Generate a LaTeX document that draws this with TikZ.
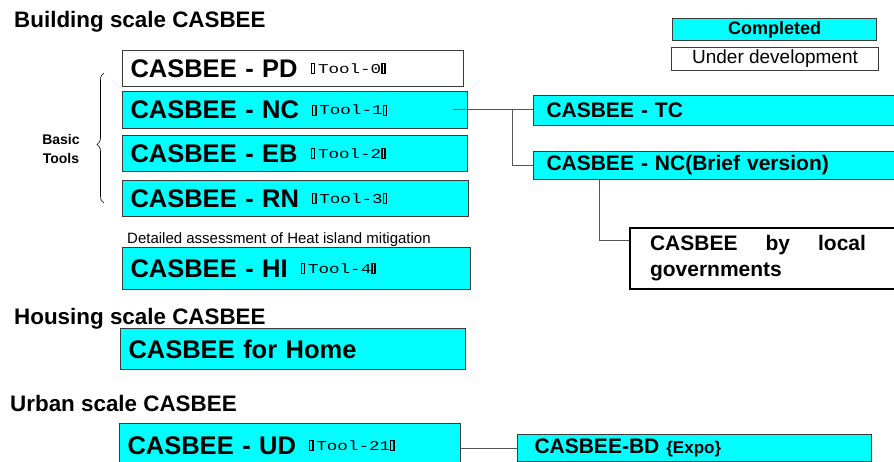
\documentclass[tikz,border=0pt]{standalone}
\usepackage{fontspec}
\setmainfont{Liberation Sans}
\newfontfamily\toolfont{Liberation Mono}
\usepackage{graphicx}
\usepackage{xcolor}
\usetikzlibrary{positioning, decorations.pathreplacing}
\definecolor{donecyan}{RGB}{0, 255, 255}
\definecolor{framegray}{RGB}{60, 60, 60}
\definecolor{linkgray}{RGB}{85, 85, 85}

% empty glyph boxes round the tool numbers
\newcommand{\tofu}{{\setlength{\fboxsep}{0pt}\setlength{\fboxrule}{1pt}\fbox{\rule{0pt}{9pt}\hspace{1.4pt}}}}
\newcommand{\toolno}[1]{\hspace{13pt}\raisebox{4pt}{\scalebox{1.3}[1]{\mdseries\toolfont\fontsize{13.5}{13.5}\selectfont\tofu\,Tool-#1\tofu}}}

\begin{document}
\begin{tikzpicture}[x=1pt, y=-1pt,
    tool/.style={draw=framegray, line width=1pt, fill=#1, anchor=north west,
                 inner xsep=8pt, inner ysep=0pt, align=left,
                 font=\bfseries\fontsize{25.5}{28}\selectfont},
    tool/.default=donecyan,
    sub/.style={tool, inner xsep=13pt, font=\bfseries\fontsize{21}{25}\selectfont},
    scale title/.style={anchor=base west, inner sep=0pt, font=\bfseries\fontsize{22.4}{26}\selectfont},
    legend/.style={draw=framegray, line width=1pt, fill=#1, anchor=north west,
                   inner sep=0pt},
    link/.style={draw=linkgray, line width=1pt}
]
    \path[use as bounding box, fill=white] (0,0) rectangle (894,462);
    \clip (0,0) rectangle (894,462);

    % legend
    \node[legend=donecyan, minimum width=204pt, minimum height=22pt,
          font=\bfseries\fontsize{18}{20}\selectfont] (completed) at (672,18) {Completed};
    \node[legend=white, minimum width=207pt, minimum height=23pt,
          font=\fontsize{19}{21}\selectfont] (underdev) at (671,47) {Under development};

    % building scale
    \node[scale title] (building) at (14,28) {Building scale CASBEE};
    \node[tool=white, text width=325pt, minimum height=36pt] (pd) at (122,50) {CASBEE - PD\toolno{0}};
    \node[tool, text width=329pt, minimum height=37pt] (nc) at (122,91) {CASBEE - NC\toolno{1}};
    \node[tool, text width=329pt, minimum height=36pt] (eb) at (122,135) {CASBEE - EB\toolno{2}};
    \node[tool, text width=330pt, minimum height=36pt] (rn) at (122,180) {CASBEE - RN\toolno{3}};
    \node[anchor=base west, inner sep=0pt, font=\fontsize{15}{17}\selectfont] (hinote) at (127,244)
        {Detailed assessment of Heat island mitigation};
    \node[tool, text width=332pt, minimum height=42pt] (hi) at (122,247) {CASBEE - HI\toolno{4}};

    \draw[decorate, decoration={brace, amplitude=7pt, aspect=0.45}, line width=0.6pt]
        (104,203) -- (104,73);
    \node[align=center, font=\bfseries\fontsize{14}{19}\selectfont] (basic) at (61,149) {Basic\\Tools};

    \node[sub, text width=354pt, minimum height=30pt] (tc) at (533,95) {CASBEE - TC};
    \node[sub, text width=354pt, minimum height=28pt] (brief) at (533,151) {CASBEE - NC(Brief version)};
    \node[tool=white, draw=black, line width=2pt, inner xsep=20pt, text width=300pt,
          minimum height=61pt, font=\bfseries\fontsize{21}{26}\selectfont] (local) at (629,227)
        {\parbox{216pt}{CASBEE\hfill by\hfill local\\governments}};

    \coordinate (fork) at (512,110);
    \draw[link] ([xshift=-15pt]nc.east) -- (nc.east -| tc.west);
    \draw[link] (fork) |- (brief.west);
    \draw[link] ([xshift=66pt]brief.south west) |- ([yshift=18pt]local.west);

    % housing scale
    \node[scale title] (housing) at (14,324) {Housing scale CASBEE};
    \node[tool, text width=329pt, minimum height=41pt] (home) at (120,328) {CASBEE for Home};

    % urban scale
    \node[scale title] (urban) at (10,411) {Urban scale CASBEE};
    \node[tool, text width=325pt, minimum height=44pt] (ud) at (119,423) {CASBEE - UD\toolno{21}};
    \node[sub, inner xsep=17pt, text width=320pt, minimum height=27pt] (bd) at (517,434)
        {CASBEE-BD {\fontsize{17}{20}\selectfont\{Expo\}}};
    \draw[link] (ud.east |- bd.west) -- (bd.west);
\end{tikzpicture}
\end{document}
